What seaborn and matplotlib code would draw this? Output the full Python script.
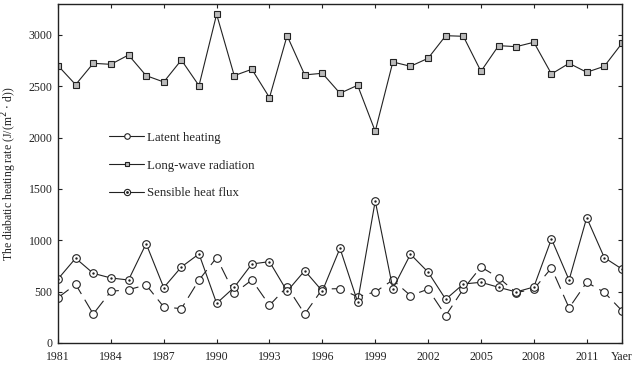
import matplotlib
matplotlib.use("Agg")
import matplotlib.pyplot as plt
from matplotlib.lines import Line2D
import pandas as pd
import seaborn as sns

# values, 1981-2013
years = list(range(1981, 2014))
latent = [441, 571, 282, 503, 519, 565, 351, 334, 613, 831,
          484, 613, 367, 548, 282, 525, 529, 450, 497, 613,
          461, 524, 266, 526, 740, 636, 490, 525, 730, 341,
          591, 493, 314]
longwave = [2700, 2515, 2723, 2713, 2804, 2603, 2541, 2755, 2505, 3200,
            2603, 2665, 2389, 2992, 2610, 2626, 2431, 2509, 2061, 2736,
            2694, 2772, 2992, 2986, 2645, 2895, 2885, 2928, 2619, 2723,
            2636, 2694, 2918]
sensible = [623, 825, 678, 633, 613, 967, 539, 740, 867, 386,
            542, 769, 792, 503, 704, 505, 922, 400, 1383, 529,
            864, 690, 425, 574, 591, 542, 497, 545, 1013, 613,
            1220, 831, 720]

tick_years = [1981, 1984, 1987, 1990, 1993, 1996, 1999, 2002, 2005, 2008, 2011, 2013]
tick_labels = ["1981", "1984", "1987", "1990", "1993", "1996", "1999",
               "2002", "2005", "2008", "2011", "Yaer"]
y_ticks = [0, 500, 1000, 1500, 2000, 2500, 3000]

df = pd.DataFrame({"year": years, "latent": latent,
                   "longwave": longwave, "sensible": sensible})

sns.set_style("ticks")
plt.rcParams["font.family"] = ["Liberation Serif", "DejaVu Serif"]
plt.rcParams["xtick.direction"] = "in"
plt.rcParams["ytick.direction"] = "in"

ink = "#222222"
fig = plt.figure(figsize=(6.34, 3.68), dpi=100)
ax = fig.add_axes([0.0915, 0.068, 0.8895, 0.921])

sns.lineplot(data=df, x="year", y="longwave", ax=ax, color=ink, lw=0.8,
             marker="s", markersize=4, markerfacecolor="#bbbbbb",
             markeredgecolor=ink, markeredgewidth=0.8)
sns.lineplot(data=df, x="year", y="latent", ax=ax, color=ink, lw=0.8,
             marker="o", markersize=5.5, markerfacecolor="white",
             markeredgecolor=ink, markeredgewidth=0.8,
             linestyle=(0, (12, 6)))
sns.lineplot(data=df, x="year", y="sensible", ax=ax, color=ink, lw=0.8,
             marker="o", markersize=5.5, markerfacecolor="white",
             markeredgecolor=ink, markeredgewidth=0.8)
sns.scatterplot(data=df, x="year", y="sensible", ax=ax, color=ink,
                s=3, linewidth=0, zorder=5)

ax.set_xlim(1981, 2013)
ax.set_ylim(0, 3300)
ax.set_xticks(tick_years)
ax.set_xticklabels(tick_labels)
ax.set_yticks(y_ticks)
ax.tick_params(axis="both", which="both", top=True, right=True,
               length=3, width=0.8, labelsize=8.5, colors=ink, pad=4)
ax.tick_params(axis="x", pad=6)
for s in ax.spines.values():
    s.set_visible(True)
    s.set_linewidth(1.0)
    s.set_color(ink)
ax.set_xlabel("")
ax.set_ylabel("The diabatic heating rate (J/(m$^2$ $\\cdot$ d))",
              fontsize=8.5, color=ink, labelpad=7)

# legend: all handles drawn as solid lines
h_lat = Line2D([], [], color=ink, lw=0.8, marker="o", markersize=4,
               markerfacecolor="white", markeredgecolor=ink, markeredgewidth=0.8)
h_lw = Line2D([], [], color=ink, lw=0.8, marker="s", markersize=3.5,
              markerfacecolor="#bbbbbb", markeredgecolor=ink, markeredgewidth=0.8)
h_sh = Line2D([], [], color=ink, lw=0.8, marker="o", markersize=4.5,
              markerfacecolor="white", markeredgecolor=ink, markeredgewidth=0.8)
h_dot = Line2D([], [], color=ink, lw=0, marker=".", markersize=2)
ax.legend([h_lat, h_lw, (h_sh, h_dot)],
          ["Latent heating", "Long-wave radiation", "Sensible heat flux"],
          loc="upper left", bbox_to_anchor=(0.07, 0.657), frameon=False,
          fontsize=9.3, handlelength=2.7, handletextpad=0.25, labelspacing=1.2,
          labelcolor=ink)

plt.savefig("out.png", dpi=100)
